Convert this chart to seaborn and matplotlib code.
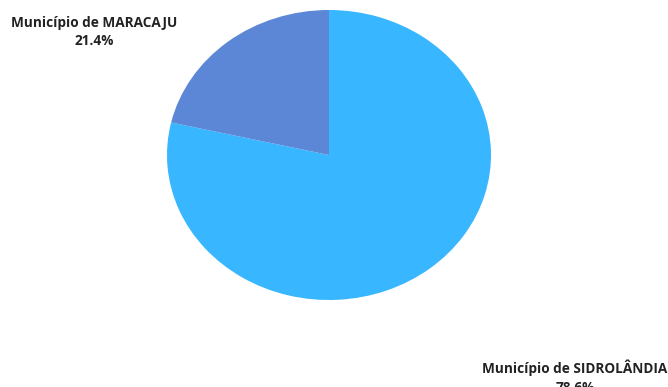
import matplotlib
matplotlib.use("Agg")
import matplotlib.pyplot as plt
import seaborn as sns

categories = ["Município de SIDROLÂNDIA", "Município de MARACAJU"]
values = [78.6, 21.4]
colors = ["#38B6FF", "#5B87D6"]

sns.set_theme(style="white")
plt.rcParams['font.family'] = ['Open Sans', 'DejaVu Sans']

W, H = 668, 387
fig = plt.figure(figsize=(W / 100, H / 100), dpi=100)
fig.patch.set_facecolor("white")
ax = fig.add_axes([167 / W, (H - 300) / H, 324 / W, 290 / H])
ax.pie(values, colors=colors, startangle=90, counterclock=False,
       wedgeprops=dict(linewidth=0))
ax.set_aspect('auto')
ax.set_xlim(-1, 1)
ax.set_ylim(-1, 1)
ax.axis('off')

pos = {categories[1]: (94, 32), categories[0]: (575, 377)}
for cat, v in zip(categories, values):
    x, y = pos[cat]
    fig.text(x / W, 1 - y / H, f"{cat}\n{v:.1f}%", ha="center", va="center",
             fontsize=9.8, fontweight="bold", color="#222222", linespacing=1.45)

fig.savefig("out.png", dpi=100, facecolor="white")
